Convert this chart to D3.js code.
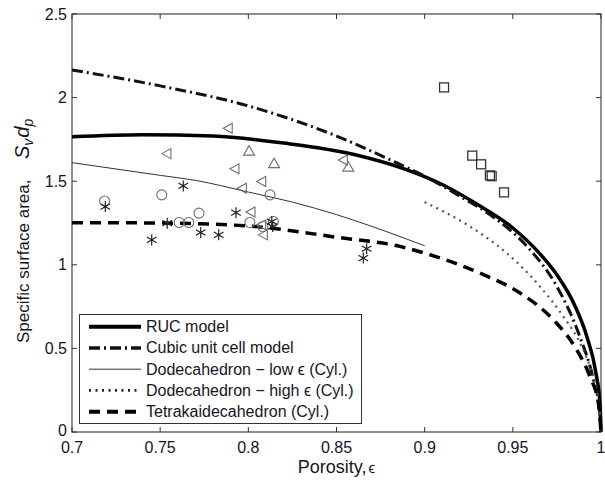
<!DOCTYPE html>
<html>
<head>
<meta charset="utf-8">
<script src="https://cdn.jsdelivr.net/npm/d3@7"></script>
<style>
  body { margin: 0; background: #fff; }
  svg { display: block; font-family: "Liberation Sans", Arial, Helvetica, sans-serif; }
</style>
</head>
<body>
<div id="chart"></div>
<script>
// axis ticks
const xTicks = [0.7, 0.75, 0.8, 0.85, 0.9, 0.95, 1];
const xTickLabels = ["0.7", "0.75", "0.8", "0.85", "0.9", "0.95", "1"];
const yTicks = [0, 0.5, 1, 1.5, 2, 2.5];
const yTickLabels = ["0", "0.5", "1", "1.5", "2", "2.5"];

// model curves
const rucX = [0.70, 0.74, 0.78, 0.82, 0.86, 0.89, 0.91, 0.93, 0.95, 0.965, 0.975, 0.985, 0.992, 0.997, 0.9995, 1.0];
const rucY = [1.766, 1.778, 1.770, 1.728, 1.660, 1.568, 1.48, 1.36, 1.22, 1.07, 0.94, 0.76, 0.57, 0.36, 0.16, 0];

const cubicX = [0.70, 0.75, 0.80, 0.85, 0.88, 0.90, 0.92, 0.937, 0.958, 0.975, 0.988, 0.9957, 0.9993, 1.0];
const cubicY = [2.165, 2.07, 1.95, 1.77, 1.63, 1.53, 1.41, 1.30, 1.11, 0.87, 0.57, 0.313, 0.12, 0];

const dodecLowX = [0.70, 0.75, 0.77, 0.80, 0.825, 0.85, 0.886, 0.90];
const dodecLowY = [1.611, 1.535, 1.505, 1.435, 1.375, 1.30, 1.169, 1.114];

const dodecHighX = [0.90, 0.9257, 0.9465, 0.9654, 0.9786, 0.9881, 0.9937, 0.9975, 0.9995, 1.0];
const dodecHighY = [1.375, 1.229, 1.070, 0.870, 0.691, 0.532, 0.392, 0.253, 0.11, 0];

const tetraX = [0.70, 0.75, 0.80, 0.85, 0.886, 0.903, 0.9314, 0.9541, 0.9730, 0.9862, 0.9937, 0.9985, 1.0];
const tetraY = [1.252, 1.250, 1.232, 1.165, 1.11, 1.060, 0.950, 0.831, 0.671, 0.492, 0.332, 0.173, 0];

// experimental points
const squareX = [0.911, 0.927, 0.932, 0.937, 0.938, 0.945];
const squareY = [2.061, 1.653, 1.601, 1.535, 1.530, 1.433];

const leftTriX = [0.7886, 0.7538, 0.7924, 0.8076, 0.7966, 0.8015, 0.8076, 0.8085, 0.8539];
const leftTriY = [1.817, 1.665, 1.574, 1.498, 1.458, 1.316, 1.239, 1.179, 1.627];

const upTriX = [0.8004, 0.8146, 0.8567];
const upTriY = [1.683, 1.608, 1.587];

const circleX = [0.7185, 0.7509, 0.7720, 0.7608, 0.7662, 0.8009, 0.8123, 0.8083, 0.8142];
const circleY = [1.382, 1.418, 1.309, 1.253, 1.253, 1.253, 1.418, 1.229, 1.259];

const starX = [0.7189, 0.7631, 0.754, 0.7452, 0.773, 0.7832, 0.793, 0.8133, 0.8138, 0.8671, 0.8652];
const starY = [1.348, 1.472, 1.249, 1.149, 1.193, 1.179, 1.312, 1.259, 1.229, 1.096, 1.040];

const legendLabels = ["RUC model", "Cubic unit cell model", "Dodecahedron \u2212 low \u03f5 (Cyl.)",
                      "Dodecahedron \u2212 high \u03f5 (Cyl.)", "Tetrakaidecahedron (Cyl.)"];

const width = 605, height = 481;
const plot = {left: 72, right: 601, top: 14, bottom: 432};
const ink = "#15151f";

const svg = d3.select("#chart").append("svg")
    .attr("width", width)
    .attr("height", height);

const x = d3.scaleLinear().domain([0.7, 1]).range([plot.left, plot.right]);
const y = d3.scaleLinear().domain([0, 2.5]).range([plot.bottom, plot.top]);

const zip = (xs, ys) => xs.map((v, i) => [v, ys[i]]);

// styles for each curve, shared with legend
const styles = [
    {data: zip(rucX, rucY), width: 3.5, dash: null, color: "#000"},
    {data: zip(cubicX, cubicY), width: 3, dash: "11,4,2,4", color: "#111"},
    {data: zip(dodecLowX, dodecLowY), width: 1, dash: null, color: "#333"},
    {data: zip(dodecHighX, dodecHighY), width: 2.2, dash: "2,4.5", color: "#555"},
    {data: zip(tetraX, tetraY), width: 3.5, dash: "11,7", color: "#000"}
];

const line = d3.line()
    .x(d => x(d[0]))
    .y(d => y(d[1]))
    .curve(d3.curveMonotoneX);

// frame
svg.append("rect")
    .attr("x", plot.left).attr("y", plot.top)
    .attr("width", plot.right - plot.left)
    .attr("height", plot.bottom - plot.top)
    .attr("fill", "none")
    .attr("stroke", "#444")
    .attr("stroke-width", 1.2);

// ticks, inward on all sides
const tickLen = 5;
xTicks.forEach(t => {
    svg.append("line").attr("x1", x(t)).attr("x2", x(t))
        .attr("y1", plot.bottom).attr("y2", plot.bottom - tickLen)
        .attr("stroke", "#333");
    svg.append("line").attr("x1", x(t)).attr("x2", x(t))
        .attr("y1", plot.top).attr("y2", plot.top + tickLen)
        .attr("stroke", "#333");
});
yTicks.forEach(t => {
    svg.append("line").attr("x1", plot.left).attr("x2", plot.left + tickLen)
        .attr("y1", y(t)).attr("y2", y(t))
        .attr("stroke", "#333");
    svg.append("line").attr("x1", plot.right).attr("x2", plot.right - tickLen)
        .attr("y1", y(t)).attr("y2", y(t))
        .attr("stroke", "#333");
});

// tick labels
svg.selectAll(".xlab")
    .data(xTicks)
    .join("text")
    .attr("x", d => x(d))
    .attr("y", plot.bottom + 20.5)
    .attr("text-anchor", "middle")
    .attr("font-size", 16)
    .attr("fill", ink)
    .text((d, i) => xTickLabels[i]);

svg.selectAll(".ylab")
    .data(yTicks)
    .join("text")
    .attr("x", plot.left - 5)
    .attr("y", d => y(d) + (d === 0 ? 4 : 5.5))
    .attr("text-anchor", "end")
    .attr("font-size", 16)
    .attr("fill", ink)
    .text((d, i) => yTickLabels[i]);

// curves
styles.forEach(s => {
    svg.append("path")
        .datum(s.data)
        .attr("d", line)
        .attr("fill", "none")
        .attr("stroke", s.color)
        .attr("stroke-width", s.width)
        .attr("stroke-dasharray", s.dash);
});

// markers
const grey = "#6e6e6e";

svg.selectAll(".sq")
    .data(zip(squareX, squareY))
    .join("rect")
    .attr("x", d => x(d[0]) - 4.5)
    .attr("y", d => y(d[1]) - 4.5)
    .attr("width", 9).attr("height", 9)
    .attr("fill", "none")
    .attr("stroke", "#333")
    .attr("stroke-width", 1.3);

svg.selectAll(".lt")
    .data(zip(leftTriX, leftTriY))
    .join("path")
    .attr("transform", d => `translate(${x(d[0])},${y(d[1])})`)
    .attr("d", "M-5,0L4,-5L4,5Z")
    .attr("fill", "none")
    .attr("stroke", grey)
    .attr("stroke-width", 1.1);

svg.selectAll(".ut")
    .data(zip(upTriX, upTriY))
    .join("path")
    .attr("transform", d => `translate(${x(d[0])},${y(d[1])})`)
    .attr("d", "M0,-5L5.5,4.5L-5.5,4.5Z")
    .attr("fill", "none")
    .attr("stroke", grey)
    .attr("stroke-width", 1.1);

svg.selectAll(".ci")
    .data(zip(circleX, circleY))
    .join("circle")
    .attr("cx", d => x(d[0]))
    .attr("cy", d => y(d[1]))
    .attr("r", 5)
    .attr("fill", "none")
    .attr("stroke", grey)
    .attr("stroke-width", 1.1);

svg.selectAll(".st")
    .data(zip(starX, starY))
    .join("path")
    .attr("transform", d => `translate(${x(d[0])},${y(d[1])})`)
    .attr("d", "M0,-5.5V5.5M-4.8,-2.8L4.8,2.8M-4.8,2.8L4.8,-2.8")
    .attr("fill", "none")
    .attr("stroke", "#222")
    .attr("stroke-width", 1.2);

// legend
const lg = svg.append("g");
lg.append("rect")
    .attr("x", 79.5).attr("y", 314.5)
    .attr("width", 282).attr("height", 109)
    .attr("fill", "#fff")
    .attr("stroke", "#333")
    .attr("stroke-width", 1);

const rowY = [326.7, 347.9, 369.2, 390.4, 411.7];
styles.forEach((s, i) => {
    lg.append("line")
        .attr("x1", 89).attr("x2", 141)
        .attr("y1", rowY[i]).attr("y2", rowY[i])
        .attr("stroke", i === 3 ? "#222" : s.color)
        .attr("stroke-width", i === 2 ? 1 : s.width + 0.5)
        .attr("stroke-dasharray", s.dash);
    lg.append("text")
        .attr("x", 146)
        .attr("y", rowY[i] + 5.5)
        .attr("font-size", 16)
        .attr("fill", ink)
        .text(legendLabels[i]);
});

// x axis title
const xt = svg.append("text")
    .attr("x", (plot.left + plot.right) / 2)
    .attr("y", 473)
    .attr("text-anchor", "middle")
    .attr("font-size", 18)
    .attr("fill", ink);
xt.append("tspan").text("Porosity,");
xt.append("tspan").attr("font-size", 15).attr("dx", 2).text("\u03f5");

// y axis title
svg.append("text")
    .attr("transform", "translate(29,343) rotate(-90)")
    .attr("font-size", 17)
    .attr("fill", ink)
    .text("Specific surface area,");

const yt = svg.append("text")
    .attr("transform", "translate(29,159) rotate(-90)")
    .attr("font-size", 20)
    .attr("font-style", "italic")
    .attr("fill", ink);
yt.append("tspan").text("S");
yt.append("tspan").attr("font-size", 14).attr("dy", 4).text("v");
yt.append("tspan").attr("dy", -4).attr("dx", 1).text("d");
yt.append("tspan").attr("font-size", 14).attr("dy", 4).text("p");
</script>
</body>
</html>
